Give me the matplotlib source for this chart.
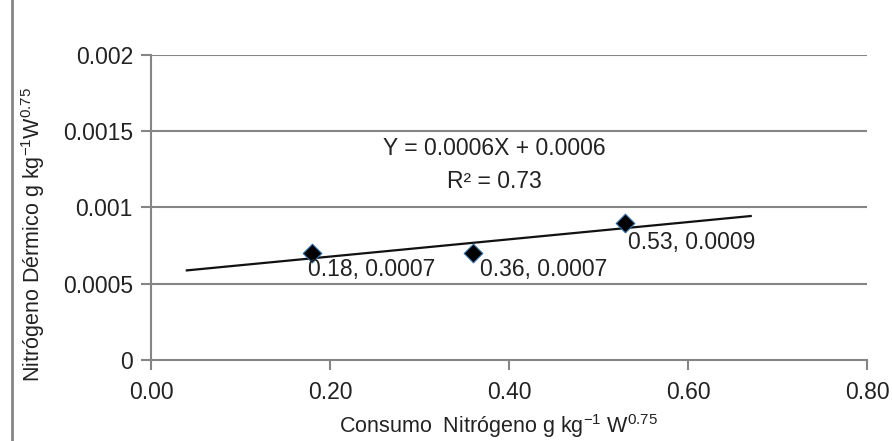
import numpy as np
import matplotlib
matplotlib.use("Agg")
import matplotlib.pyplot as plt
from matplotlib.lines import Line2D

plt.rcParams['font.family'] = ['Liberation Sans', 'DejaVu Sans']
plt.rcParams['mathtext.fontset'] = 'custom'
plt.rcParams['mathtext.rm'] = 'Liberation Sans'
plt.rcParams['mathtext.it'] = 'Liberation Sans'
plt.rcParams['mathtext.default'] = 'regular'

# data
consumo_n = [0.18, 0.36, 0.53]
n_dermico = [0.0007, 0.0007, 0.0009]
point_labels = ['0.18, 0.0007', '0.36, 0.0007', '0.53, 0.0009']
trend_x = [0.04, 0.67]
x_ticks = [0.0, 0.2, 0.4, 0.6, 0.8]
y_ticks = [0, 0.0005, 0.001, 0.0015, 0.002]
y_tick_labels = ['0', '0.0005', '0.001', '0.0015', '0.002']

grey = '#858585'
txt = '#222222'

fig = plt.figure(figsize=(8.92, 4.41), dpi=100)
ax = fig.add_axes([0.1693, 0.1837, 0.8027, 0.6916])

# horizontal gridlines
for yv in y_ticks[1:]:
    ax.axhline(yv, color=grey, lw=1.5, zorder=1)

# linear trend line fitted to the points
slope, intercept = np.polyfit(consumo_n, n_dermico, 1)
tx = np.array(trend_x)
ax.plot(tx, slope * tx + intercept, color='#111111', lw=1.6, zorder=2)

ax.scatter(consumo_n, n_dermico, marker='D', s=90, color='black',
           edgecolors='#2f6ea8', linewidths=0.8, zorder=3)

offsets = [(-3, -12), (5, -12), (2, -14.5)]
for x, y, lab, off in zip(consumo_n, n_dermico, point_labels, offsets):
    ax.annotate(lab, (x, y), xytext=off, textcoords='offset points',
                ha='left', va='center', fontsize=16.5, color=txt)

ax.text(0.384, 0.00139, 'Y = 0.0006X + 0.0006', ha='center', va='center',
        fontsize=16.5, color=txt)
ax.text(0.384, 0.00117, 'R² = 0.73', ha='center', va='center',
        fontsize=16.5, color=txt)

ax.set_xlim(0, 0.8)
ax.set_ylim(0, 0.002)
ax.set_xticks(x_ticks)
ax.set_xticklabels([f'{v:.2f}' for v in x_ticks])
ax.set_yticks(y_ticks)
ax.set_yticklabels(y_tick_labels)

for side in ['top', 'right']:
    ax.spines[side].set_visible(False)
for side in ['left', 'bottom']:
    ax.spines[side].set_color(grey)
    ax.spines[side].set_linewidth(1.5)

ax.tick_params(axis='both', colors=grey, labelcolor=txt,
               labelsize=16.5, length=7, width=1.5, direction='out')
ax.tick_params(axis='x', pad=8)
ax.tick_params(axis='y', pad=6)

ax.set_xlabel(r'Consumo  Nitrógeno g kg$^{-1}$ W$^{0.75}$', fontsize=15.5,
              color=txt)
ax.xaxis.set_label_coords(0.485, -0.172)
ax.set_ylabel(r'Nitrógeno Dérmico g kg$^{-1}$W$^{0.75}$', fontsize=15.5,
              color=txt)
ax.yaxis.set_label_coords(-0.145, 0.41)

# chart-area border at the left edge
fig.add_artist(Line2D([12 / 892, 12 / 892], [0, 1], color=grey, lw=2,
                      transform=fig.transFigure))

fig.savefig('out.png', dpi=100, facecolor='white')
